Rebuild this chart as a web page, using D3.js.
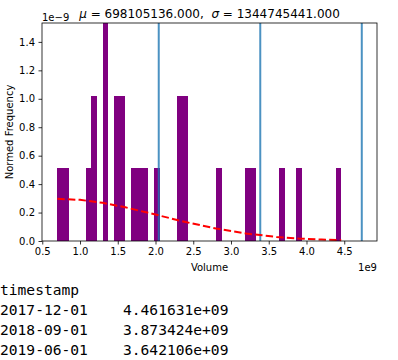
<!DOCTYPE html>
<html>
<head>
<meta charset="utf-8">
<script src="https://cdn.jsdelivr.net/npm/d3@7"></script>
<style>
  html, body { margin: 0; padding: 0; background: #fff; }
  svg { display: block; }
  .tick text { font-family: "DejaVu Sans", sans-serif; font-size: 10px; fill: #000; }
</style>
</head>
<body>
<div id="chart"></div>
<script>
// ---- data ----
const binMin = 698105136;          // lowest volume (start of first bin)
const binMax = 4461631000;         // highest volume (end of last bin)
const binCounts = [1,1,0,0,0,1,2,0,3,0,2,2,0,1,1,1,0,1,0,0,0,2,2,0,0,0,0,0,1,0,0,0,0,1,1,0,0,0,0,1,0,0,1,0,0,0,0,0,0,1];
const totalCount = 26;
const mu = 698105136.000;
const sigma = 1344745441.000;
const sigmaLines = [2042850577, 3387596018, 4732341459];   // mu + 1,2,3 sigma
const pdfX = [0.70e9, 1.0e9, 1.3e9, 1.6e9, 2.0e9, 2.4e9, 2.8e9, 3.2e9, 3.6e9, 3.9e9, 4.2e9, 4.46e9];
const pdfY = [0.2967e-9, 0.2893e-9, 0.2684e-9, 0.2369e-9, 0.1857e-9, 0.1332e-9, 0.0875e-9, 0.0526e-9, 0.0289e-9, 0.0174e-9, 0.0100e-9, 0.0059e-9];
const xTicks = [0.5, 1.0, 1.5, 2.0, 2.5, 3.0, 3.5, 4.0, 4.5];
const yTicks = [0.0, 0.2, 0.4, 0.6, 0.8, 1.0, 1.2, 1.4];
const tableHeader = "timestamp";
const tableDates = ["2017-12-01", "2018-09-01", "2019-06-01"];
const tableValues = ["4.461631e+09", "3.873424e+09", "3.642106e+09"];

// ---- layout ----
const W = 398, H = 360;
const L = 42, R = 377, T = 23, B = 241;

const svg = d3.select("#chart").append("svg").attr("width", W).attr("height", H);
svg.append("rect").attr("width", W).attr("height", H).attr("fill", "#fff");

const binW = (binMax - binMin) / binCounts.length;
const bins = binCounts.map((c, i) => ({x0: binMin + i * binW, x1: binMin + (i + 1) * binW, d: c / (totalCount * binW)}));
const yMax = d3.max(bins, b => b.d);

const x = d3.scaleLinear().domain([0.4964e9, 4.934e9]).range([L, R]);
const y = d3.scaleLinear().domain([0, yMax]).range([B, T]);

// bars
svg.append("g").selectAll("rect").data(bins.filter(b => b.d > 0)).join("rect")
  .attr("x", b => x(b.x0))
  .attr("width", b => x(b.x1) - x(b.x0))
  .attr("y", b => y(b.d))
  .attr("height", b => y(0) - y(b.d))
  .attr("fill", "#800080")
  .attr("shape-rendering", "crispEdges");

// sigma lines
svg.append("g").selectAll("line").data(sigmaLines).join("line")
  .attr("x1", d => x(d)).attr("x2", d => x(d))
  .attr("y1", T).attr("y2", B)
  .attr("stroke", "#1f77b4").attr("stroke-width", 2).attr("opacity", 0.8);

// pdf line
const pts = pdfX.map((v, i) => [v, pdfY[i]]);
svg.append("path")
  .datum(pts)
  .attr("d", d3.line().x(d => x(d[0])).y(d => y(d[1])))
  .attr("fill", "none")
  .attr("stroke", "red")
  .attr("stroke-width", 2)
  .attr("stroke-dasharray", "7.4,3.2");

// axes
const xAxis = svg.append("g").attr("transform", `translate(0,${B})`)
  .call(d3.axisBottom(x).tickValues(xTicks.map(v => v * 1e9)).tickFormat((d, i) => xTicks[i].toFixed(1)).tickSizeOuter(0).tickSize(3.5).tickPadding(3.5));
const yAxis = svg.append("g").attr("transform", `translate(${L},0)`)
  .call(d3.axisLeft(y).tickValues(yTicks.map(v => v * 1e-9)).tickFormat((d, i) => yTicks[i].toFixed(1)).tickSizeOuter(0).tickSize(3.5).tickPadding(3.5));
[xAxis, yAxis].forEach(g => { g.select(".domain").remove(); g.selectAll("line").attr("stroke", "#000").attr("stroke-width", 0.8); });

// frame
svg.append("rect").attr("x", L).attr("y", T).attr("width", R - L).attr("height", B - T)
  .attr("fill", "none").attr("stroke", "#000").attr("stroke-width", 0.8);

const sans = "DejaVu Sans, sans-serif";
// labels
svg.append("text").attr("x", (L + R) / 2).attr("y", 270.5).attr("text-anchor", "middle")
  .attr("font-family", sans).attr("font-size", 10).text("Volume");
svg.append("text").attr("x", R).attr("y", 270.5).attr("text-anchor", "end")
  .attr("font-family", sans).attr("font-size", 10).text("1e9");
svg.append("text").attr("x", L).attr("y", 20.5).attr("text-anchor", "start")
  .attr("font-family", sans).attr("font-size", 10).text("1e\u22129");
svg.append("text").attr("transform", `translate(12.5,${(T + B) / 2}) rotate(-90)`).attr("text-anchor", "middle")
  .attr("font-family", sans).attr("font-size", 10).text("Normed Frequency");

// title
const title = svg.append("text").attr("x", (L + R) / 2).attr("y", 18).attr("text-anchor", "middle")
  .attr("font-family", sans).attr("font-size", 12).attr("xml:space", "preserve");
title.append("tspan").attr("font-style", "italic").text("\u03bc");
title.append("tspan").text(" = " + mu.toFixed(3) + ",  ");
title.append("tspan").attr("font-style", "italic").text("\u03c3");
title.append("tspan").text(" = " + sigma.toFixed(3));

// table text
const mono = "DejaVu Sans Mono, monospace";
const tbl = svg.append("g").attr("font-family", mono).attr("font-size", 14.6).attr("fill", "#000");
tbl.append("text").attr("x", 0).attr("y", 294.7).text(tableHeader);
tableDates.forEach((dt, i) => {
  tbl.append("text").attr("x", 0).attr("y", 314.7 + i * 20).attr("xml:space", "preserve")
    .text(dt + "    " + tableValues[i]);
});
</script>
</body>
</html>
